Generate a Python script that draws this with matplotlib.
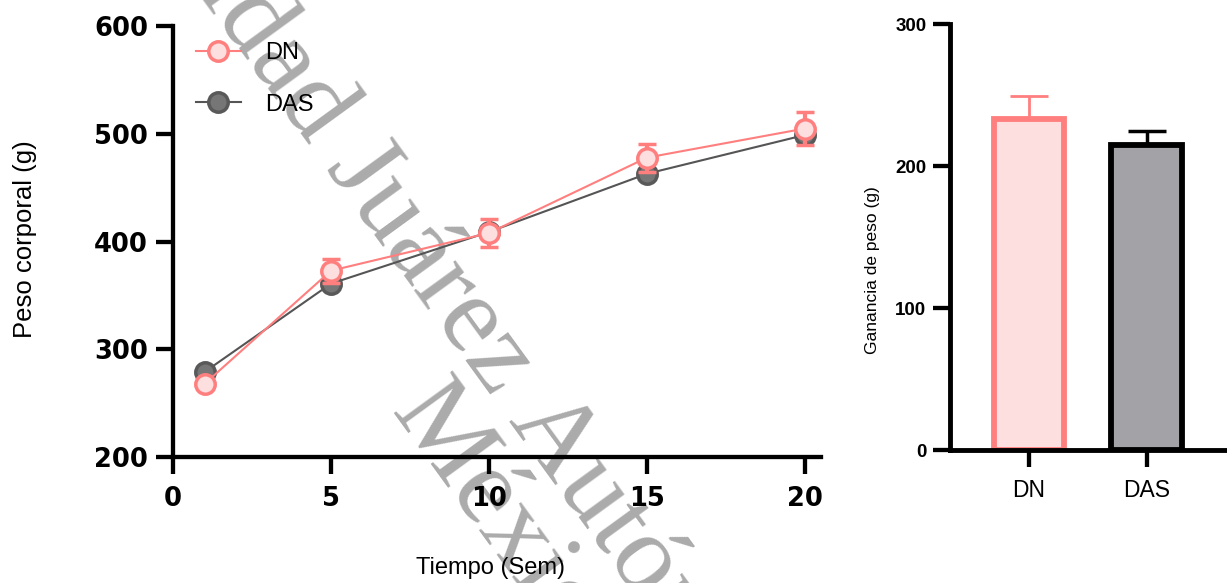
import numpy as np
import matplotlib.pyplot as plt
from matplotlib.lines import Line2D

# datos
semanas = [1, 5, 10, 15, 20]
dn_peso = [268, 373, 408, 478, 505]
dn_err = [3, 11, 13, 13, 15]
das_peso = [279, 361, 409, 463, 499]
das_err = [3, 4, 5, 5, 6]

grupos = ['DN', 'DAS']
ganancia = [233, 215]
ganancia_err = [16, 10]

rosa = '#FF7F7F'
rosa_claro = '#FDDFE0'
gris = '#555555'

plt.rcParams['font.family'] = ['Liberation Sans', 'DejaVu Sans']

fig = plt.figure(figsize=(12.27, 5.83), dpi=100)

# grafico de peso corporal
ax = fig.add_axes([0.141, 0.2161, 0.528, 0.739])
ax.set_facecolor('none')
ax.errorbar(semanas, das_peso, yerr=das_err, color=gris, lw=1.5, marker='o', ms=14,
            mfc='#767676', mec='#595959', mew=2.5, capsize=6, elinewidth=2.5,
            capthick=2.5, zorder=3)
ax.errorbar(semanas, dn_peso, yerr=dn_err, color=rosa, lw=1.5, marker='o', ms=14,
            mfc=rosa_claro, mec=rosa, mew=2.5, capsize=6.5, elinewidth=3,
            capthick=3, zorder=4)
ax.set_xlim(0, 20.5)
ax.set_ylim(200, 600)
ax.set_xticks([0, 5, 10, 15, 20])
ax.set_yticks([200, 300, 400, 500, 600])
for s in ['top', 'right']:
    ax.spines[s].set_visible(False)
for s in ['left', 'bottom']:
    ax.spines[s].set_linewidth(3.1)
ax.tick_params(axis='both', length=12, width=3.1)
ax.tick_params(axis='y', pad=6)
ax.tick_params(axis='x', pad=9)
for lb in ax.get_xticklabels() + ax.get_yticklabels():
    lb.set_fontfamily('DejaVu Sans')
    lb.set_fontweight('bold')
    lb.set_fontsize(18.5)
ax.set_xlabel('Tiempo (Sem)', fontsize=17)
ax.xaxis.set_label_coords(0.49, -0.232)
ax.set_ylabel('Peso corporal (g)', fontsize=18.5)
ax.yaxis.set_label_coords(-0.21, 0.506)

mano = [Line2D([], [], color=rosa, lw=1.5, marker='o', ms=14, mfc=rosa_claro, mec=rosa, mew=2.5),
        Line2D([], [], color=gris, lw=1.5, marker='o', ms=14, mfc='#767676', mec='#595959', mew=2.5)]
ax.legend(mano, grupos, loc='center left', bbox_to_anchor=(0.1597, 0.8645),
          bbox_transform=fig.transFigure, frameon=False, fontsize=17,
          borderpad=0, borderaxespad=0, handlelength=1.9, handletextpad=1.05,
          labelspacing=1.25)

# grafico de ganancia de peso
ax2 = fig.add_axes([0.7742, 0.2281, 0.2258, 0.7307])
ax2.set_facecolor('none')
x = np.arange(len(grupos))
ax2.bar(x[0], ganancia[0], width=0.6, color=rosa_claro, edgecolor=rosa, lw=4.2, zorder=2)
ax2.bar(x[1], ganancia[1], width=0.6, color='#A3A2A7', edgecolor='black', lw=4.2, zorder=2)
ax2.errorbar(x[0], ganancia[0], yerr=[[0], [ganancia_err[0]]], color=rosa, lw=2,
             capsize=14, capthick=2, fmt='none', zorder=1)
ax2.errorbar(x[1], ganancia[1], yerr=[[0], [ganancia_err[1]]], color='black', lw=2.5,
             capsize=14, capthick=2.5, fmt='none', zorder=1)
ax2.set_xlim(-0.67, 1.68)
ax2.set_ylim(0, 300)
ax2.set_xticks(x)
ax2.set_xticklabels(grupos, fontsize=16.5)
ax2.set_yticks([0, 100, 200, 300])
for s in ['top', 'right']:
    ax2.spines[s].set_visible(False)
for s in ['left', 'bottom']:
    ax2.spines[s].set_linewidth(3.5)
ax2.tick_params(axis='both', length=12, width=3.1)
ax2.tick_params(axis='y', labelsize=13.5, pad=5)
ax2.tick_params(axis='x', pad=9)
for lb in ax2.get_yticklabels():
    lb.set_fontweight('bold')
ax2.set_ylabel('Ganancia de peso (g)', fontsize=12.5)
ax2.yaxis.set_label_coords(-0.253, 0.4225)

# marca de agua (detras de los graficos)
marca = dict(family='Liberation Serif', fontsize=80, color='#ABABAB', rotation=-54,
             rotation_mode='anchor', va='baseline', zorder=-1)
fig.text(508 / 1227, 1 - 420 / 583, 'Universidad Juárez ', ha='right', **marca)
fig.text(508 / 1227, 1 - 420 / 583, 'Autónoma de Tabasco', ha='left', **marca)
fig.text(390 / 1227, 1 - 412 / 583, 'México', ha='left', **marca)

fig.savefig('out.png', dpi=100)
